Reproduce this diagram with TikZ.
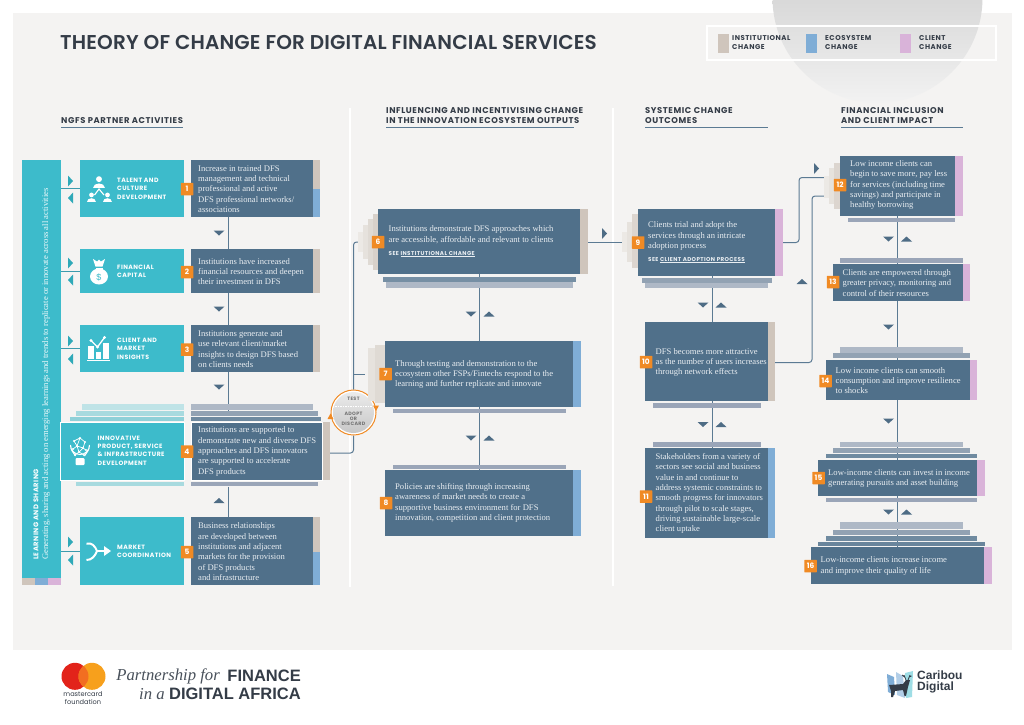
\documentclass[tikz,border=0pt]{standalone}
\usepackage{fontspec}
\usetikzlibrary{calc,shapes.geometric}
\setmainfont{Liberation Serif}
\newfontfamily\hdfont{Poppins}[LetterSpace=7.0]
\newfontfamily\ttlfont{Poppins}[UprightFont=* SemiBold,LetterSpace=0.8]
\newfontfamily\mcfont{Poppins}
\newfontfamily\lgsans{Liberation Sans}
\definecolor{panel}{HTML}{F4F3F2}
\definecolor{dk}{HTML}{50708A}
\definecolor{cy}{HTML}{3DBBCB}
\definecolor{tau}{HTML}{CFC5BC}
\definecolor{blu}{HTML}{7FADD6}
\definecolor{pnk}{HTML}{D9B3D9}
\definecolor{org}{HTML}{F08A24}
\definecolor{ink}{HTML}{343C47}
\definecolor{lne}{HTML}{5B7A93}
\definecolor{tri}{HTML}{4E6C85}
\definecolor{teal}{HTML}{2FA9B8}
\definecolor{stA}{HTML}{AEB8C6}
\definecolor{stB}{HTML}{92A2B3}
\definecolor{stC}{HTML}{6F8AA0}
\definecolor{stD}{HTML}{9AA5B8}
\definecolor{cyA}{HTML}{BFE3E7}
\definecolor{cyB}{HTML}{A8DADF}
\definecolor{cyC}{HTML}{8FD0D8}
\definecolor{txt}{HTML}{E9EEF2}
\definecolor{fA}{HTML}{D8D1CA}
\definecolor{fB}{HTML}{DFDAD4}
\definecolor{fC}{HTML}{E6E2DD}
\definecolor{fD}{HTML}{ECE9E5}
\definecolor{mcr}{HTML}{E2231A}
\definecolor{mco}{HTML}{F7A01C}
\definecolor{mcm}{HTML}{F26E21}
\pgfdeclarelayer{bg}
\pgfsetlayers{bg,main}
\tikzset{
 dkbox/.style={fill=dk,draw=none,inner sep=0pt,rectangle},
 cybox/.style={fill=cy,draw=none,inner sep=0pt,rectangle},
 bodytxt/.style={inner sep=0pt,anchor=west,align=left,text=txt,font=\fontsize{8.6}{10.35}\selectfont},
 cylab/.style={inner sep=0pt,anchor=west,align=left,text=white,font=\hdfont\bfseries\fontsize{6.2}{8.35}\selectfont},
 headlab/.style={inner sep=0pt,anchor=west,align=left,text=ink,font=\hdfont\bfseries\fontsize{8.4}{9.9}\selectfont},
 leglab/.style={inner sep=0pt,anchor=west,align=left,text=ink,font=\hdfont\bfseries\fontsize{7}{9}\selectfont},
 badge/.style={fill=org,text=white,inner sep=0pt,minimum width=12.5pt,minimum height=12.5pt,rounded corners=0.5pt,font=\mcfont\bfseries\fontsize{7.4}{7}\selectfont},
 con/.style={draw=lne,line width=1pt},
 turn/.style={con,rounded corners=3pt},
 cyctext/.style={inner sep=0pt,align=center,text=black!55,font=\hdfont\bfseries\fontsize{4.8}{5.2}\selectfont},
}
\newcommand\dbox[8]{\node[dkbox,minimum width={(#4-#2)*1pt},minimum height={(#5-#3)*1pt}] (#1) at ({(#2+#4)/2},{(#3+#5)/2}) {};
 \node[bodytxt] (#1t) at (#6,#7) {#8};}
\newcommand\cbox[5]{\node[cybox,minimum width={(#4-#2)*1pt},minimum height={(#5-#3)*1pt}] (#1) at ({(#2+#4)/2},{(#3+#5)/2}) {};}
\newcommand\strp[6]{\node[fill=#6,inner sep=0pt,minimum width={(#4-#2)*1pt},minimum height={(#5-#3)*1pt}] (#1) at ({(#2+#4)/2},{(#3+#5)/2}) {};}
\newcommand\stk[5]{\fill[#5] (#1,#2) rectangle (#3,#4);}
\newcommand\bdg[4]{\node[badge] (#1) at (#2,#3) {#4};}
\newcommand\tdn[2]{\fill[tri] (#1-5.5,#2-2.5) -- (#1+5.5,#2-2.5) -- (#1,#2+2.5) -- cycle;}
\newcommand\tup[2]{\fill[tri] (#1-5.5,#2+2.5) -- (#1+5.5,#2+2.5) -- (#1,#2-2.5) -- cycle;}
\newcommand\trt[3][tri]{\fill[#1] (#2-2.5,#3-5.5) -- (#2-2.5,#3+5.5) -- (#2+2.5,#3) -- cycle;}
\newcommand\tlf[3][teal]{\fill[#1] (#2+2.5,#3-5.5) -- (#2+2.5,#3+5.5) -- (#2-2.5,#3) -- cycle;}
% fan: right x, mid y, half height
\newcommand\fanfour[3]{\fill[fD] (#1-20,#2-#3+18) rectangle (#1-15,#2+#3-18);\fill[fC] (#1-15,#2-#3+11) rectangle (#1-10,#2+#3-11);\fill[fB] (#1-10,#2-#3+5) rectangle (#1-5,#2+#3-5);\fill[fA] (#1-5,#2-#3) rectangle (#1,#2+#3);}
\newcommand\person[3]{\fill[white] (#1,#2-#3*0.55) circle ({#3*0.42});\fill[white] (#1-#3*0.85,#2+#3*0.72) .. controls (#1-#3*0.85,#2-#3*0.1) and (#1+#3*0.85,#2-#3*0.1) .. (#1+#3*0.85,#2+#3*0.72) -- cycle;}
\begin{document}
\begin{tikzpicture}[x=1pt,y=-1pt]
\useasboundingbox (0,0) rectangle (1024,724);
\begin{pgfonlayer}{bg}
\fill[white] (0,0) rectangle (1024,724);
\fill[panel] (13,13) rectangle (1012,650);
\begin{scope}
\clip (877.5,-2) circle (105);
\shade[top color=black!15,bottom color=black!5] (770,0) rectangle (985,104);
\end{scope}
\draw[white,line width=1.2pt] (350,108) -- (350,587);
\draw[white,line width=1.2pt] (613,108) -- (613,586);
\end{pgfonlayer}

% legend and headings
\node[inner sep=0pt,anchor=west,text=ink,font=\ttlfont\fontsize{20}{22}\selectfont] (title) at (60,42.5) {THEORY OF CHANGE FOR DIGITAL FINANCIAL SERVICES};
\node[draw=white,line width=1.4pt,inner sep=0pt,minimum width=289pt,minimum height=34pt] (legend) at (851.5,43) {};
\strp{la}{718}{34}{729}{53}{tau}
\node[leglab] (lat) at (732,43) {INSTITUTIONAL\\CHANGE};
\strp{lb}{806}{34}{817}{53}{blu}
\node[leglab] (lbt) at (825,43) {ECOSYSTEM\\CHANGE};
\strp{lc}{900}{34}{911}{53}{pnk}
\node[leglab] (lct) at (919,43) {CLIENT\\CHANGE};

\node[headlab] (h1) at (61,120.5) {NGFS PARTNER ACTIVITIES};
\node[headlab] (h2) at (386,115.5) {INFLUENCING AND INCENTIVISING CHANGE\\IN THE INNOVATION ECOSYSTEM OUTPUTS};
\node[headlab] (h3) at (645,115.5) {SYSTEMIC CHANGE\\OUTCOMES};
\node[headlab] (h4) at (841,115.5) {FINANCIAL INCLUSION\\AND CLIENT IMPACT};
\draw[lne,line width=0.8pt] (61,127.5) -- (183,127.5);
\draw[lne,line width=0.8pt] (386,127.5) -- (574,127.5);
\draw[lne,line width=0.8pt] (645,127.5) -- (768,127.5);
\draw[lne,line width=0.8pt] (841,127.5) -- (963,127.5);

% learning bar
\cbox{bar}{22}{160}{61}{585}
\stk{22}{578}{35}{585}{tau}\stk{35}{578}{48}{585}{blu}\stk{48}{578}{61}{585}{pnk}
\node[rotate=90,anchor=west,inner sep=0pt,text=white,font=\hdfont\bfseries\fontsize{6.8}{8}\selectfont] (barh) at (36,560) {LEARNING AND SHARING};
\node[rotate=90,anchor=west,inner sep=0pt,text=white!90!cy,font=\fontsize{8.6}{10}\selectfont] (bart) at (46,560) {Generating, sharing and acting on emerging learnings and trends to replicate or innovate across all activities};

% column 1
\cbox{c1}{80}{160}{184}{217}
\cbox{c2}{80}{249}{184}{293}
\cbox{c3}{80}{325}{184}{372}
\stk{82}{404}{184}{410}{cyA}\stk{76}{410.5}{184}{416}{cyB}\stk{70}{416.5}{184}{420.5}{cyC}
\node[cybox,draw=white,line width=1pt,minimum width=124pt,minimum height=58pt] (c4) at (122,451) {};
\stk{76}{481.5}{184}{486}{cyB}
\cbox{c5}{80}{517}{184}{585}
\node[cylab] (c1t) at (117,188.8) {TALENT AND\\CULTURE\\DEVELOPMENT};
\node[cylab] (c2t) at (117,271.3) {FINANCIAL\\CAPITAL};
\node[cylab] (c3t) at (117,348.8) {CLIENT AND\\MARKET\\INSIGHTS};
\node[cylab] (c4t) at (97.5,450.5) {INNOVATIVE\\PRODUCT, SERVICE\\\& INFRASTRUCTURE\\DEVELOPMENT};
\node[cylab] (c5t) at (117,551.3) {MARKET\\COORDINATION};

% icons
\person{99}{183}{7}
\person{91.5}{198}{5.6}
\person{107.5}{198}{5.6}
\draw[white,line width=1.1pt] (94.5,195) -- (99,189) -- (104,195);
\fill[white] (99,276.5) ellipse (9 and 8);
\fill[white] (95.5,272) rectangle (102.5,268);
\fill[white] (93,259) -- (97,261.5) -- (99,259.5) -- (101,261.5) -- (105,259) -- (102.5,266.5) -- (95.5,266.5) -- cycle;
\node[inner sep=0pt,text=cy,font=\lgsans\fontsize{9}{9}\selectfont] (dollar) at (99,277) {\$};
\fill[white] (87,359.5) rectangle (109.5,361);
\fill[white] (88,346) rectangle (94,358.5);
\fill[white] (95.8,352) rectangle (101.2,358.5);
\fill[white] (103,343) rectangle (108.5,358.5);
\draw[white,line width=1.3pt] (91,340.5) -- (97.5,347) -- (104.5,337.5);
\fill[white] (91,340.5) circle (1.6) (97.5,347) circle (1.6) (104.5,337.5) circle (1.6);
\draw[white,line width=1pt] (75.5,456) .. controls (73,452) and (70.5,450) .. (70.5,445) arc[start angle=180,end angle=0,radius=9.5] .. controls (89.5,450) and (87,452) .. (84.5,456);
\foreach \a/\b in {74/441,80/438,85/442,77/446,83/448,73/449,86/450,79/452,75/455,84/455}{\fill[white] (\a,\b) circle (1.2);}
\draw[white,line width=0.7pt] (74,441) -- (80,438) -- (85,442) -- (83,448) -- (77,446) -- (74,441) (77,446) -- (73,449) (83,448) -- (86,450) (77,446) -- (79,452) -- (83,448) (79,452) -- (75,455) (79,452) -- (84,455) (80,438) -- (77,446);
\fill[white,rounded corners=1pt] (75.5,458) rectangle (84.5,465);
\draw[white,line width=2pt] (86.5,543.5) .. controls (92,542.5) and (95,546) .. (97,551) .. controls (95,556) and (92,560) .. (86.5,560);
\draw[white,line width=2pt] (97,551) -- (105,551);
\fill[white] (104,546) -- (111,551) -- (104,556) -- cycle;

% left links
\begin{pgfonlayer}{bg}
\draw[draw=teal!70!lne,line width=0.9pt] (bar.east|-c1.west)++(0,0) -- (c1.west);
\draw[draw=teal!70!lne,line width=0.9pt] (bar.east|-c2.west) -- (c2.west);
\draw[draw=teal!70!lne,line width=0.9pt] (bar.east|-c3.west) -- (c3.west);
\draw[draw=teal!70!lne,line width=0.9pt] (bar.east|-c5.west) -- (c5.west);
\end{pgfonlayer}
\trt[teal]{70.5}{181}\tlf{70.5}{198}
\trt[teal]{70.5}{263}\tlf{70.5}{280}
\trt[teal]{70.5}{341}\tlf{70.5}{359}
\trt[teal]{70.5}{542}\tlf{70.5}{560}

% activity boxes
\dbox{b1}{191}{160}{313}{217}{198}{189}{Increase in trained DFS\\management and technical\\professional and active\\DFS professional networks/\\associations}
\strp{s1a}{313}{160}{320}{189}{tau}\strp{s1b}{313}{189}{320}{217}{blu}
\dbox{b2}{191}{249}{313}{293}{198}{271.5}{Institutions have increased\\financial resources and deepen\\their investment in DFS}
\strp{s2}{313}{249}{320}{293}{tau}
\dbox{b3}{191}{325}{313}{372}{198}{349}{Institutions generate and\\use relevant client/market\\insights to design DFS based\\on clients needs}
\strp{s3}{313}{325}{320}{372}{tau}
\stk{191}{404}{313}{410}{stA}\stk{191}{410.5}{317.5}{416}{stB}\stk{191}{416.5}{320.5}{420.5}{stC}
\node[dkbox,draw=white,line width=1pt,minimum width=131pt,minimum height=58pt] (b4) at (256.5,451) {};
\node[bodytxt] (b4t) at (198,451.5) {Institutions are supported to\\demonstrate new and diverse DFS\\approaches and DFS innovators\\are supported to accelerate\\DFS products};
\strp{s4}{322.5}{422}{330}{480}{tau}
\stk{191}{482}{317.5}{486}{stD}
\dbox{b5}{191}{517}{313}{585}{198}{551.8}{Business relationships\\are developed between\\institutions and adjacent\\markets for the provision\\of DFS products\\and infrastructure}
\strp{s5a}{313}{517}{320}{552}{tau}\strp{s5b}{313}{552}{320}{585}{blu}

\coordinate (xa) at (228,0);
\coordinate (xb) at (479,0);
\coordinate (xc) at (712,0);
\coordinate (xd) at (897.7,0);
\begin{pgfonlayer}{bg}
\draw[con] (b1.south-|xa) -- (b2.north-|xa);
\draw[con] (b2.south-|xa) -- (b3.north-|xa);
\draw[con] (b3.south-|xa) -- ([yshift=10pt]b4.north-|xa);
\draw[con] ([yshift=-6pt]b4.south-|xa) -- (b5.north-|xa);
\end{pgfonlayer}
\tdn{219}{233}\tdn{219}{309}\tdn{219}{387}\tup{219}{500.5}

% cycle
\node[circle,draw=org,line width=1pt,fill=white,inner sep=0pt,minimum size=45pt] (cyc) at (353.5,412.5) {};
\shade[top color=black!8,bottom color=black!22] (353.5,412.5) circle (20.5);
\draw[white,line width=0.8pt,dash pattern=on 1.5pt off 1pt] (335,406.5) -- (372,406.5);
\node[cyctext] (cyt) at (353.5,399) {TEST};
\node[cyctext] (cya) at (353.5,419) {ADOPT\\OR\\DISCARD};
\fill[org] (373,405.5) -- (379,405.5) -- (376,411) -- cycle;
\fill[org] (327.5,419) -- (333.5,419) -- (330.5,413.5) -- cycle;

% column 2
\fanfour{378}{242}{28}
\coordinate (f6) at (358,242);
\dbox{b6}{378}{209}{580}{274}{388.5}{241.5}{Institutions demonstrate DFS approaches which\\are accessible, affordable and relevant to clients\\[2.4pt]{\hdfont\bfseries\fontsize{5.6}{7}\selectfont SEE \underline{INSTITUTIONAL CHANGE}}}
\strp{s6}{580}{209}{588}{274}{tau}
\stk{382.5}{277}{576}{282}{stC!80!stB}\stk{385.5}{282}{573}{288}{stA}
\fill[fC] (368,348) rectangle (375,401);\fill[fB] (375,345) rectangle (385,403);
\coordinate (f7) at (365,374);
\dbox{b7}{385}{341}{573}{407}{395}{374.5}{Through testing and demonstration to the\\ecosystem other FSPs/Fintechs respond to the\\learning and further replicate and innovate}
\strp{s7}{573}{341}{581}{407}{blu}
\stk{393}{409}{566}{413}{stD}
\stk{393}{465}{566}{469}{stD}
\dbox{b8}{385}{470}{573}{536}{395}{503}{Policies are shifting through increasing\\awareness of market needs to create a\\supportive business environment for DFS\\innovation, competition and client protection}
\strp{s8}{573}{470}{581}{536}{blu}
\begin{pgfonlayer}{bg}
\draw[turn] ([yshift=-2pt]s4.east) -| (cyc.south);
\draw[turn] (cyc.north) |- (f6);
\draw[con] (cyc.north|-f7) -- (f7);
\draw[con] (b6.south-|xb) -- (b7.north-|xb);
\draw[con] (b7.south-|xb) -- (b8.north-|xb);
\end{pgfonlayer}
\tdn{471}{314}\tup{489}{314}
\tdn{471}{438}\tup{489}{438}
\trt{604.5}{233.5}

% column 3
\fill[fD] (622,232) rectangle (627,252);
\fill[fC] (627,222) rectangle (632,262);
\fill[fA!50!fB] (632,214) rectangle (638,268);
\coordinate (f9) at (622,242);
\dbox{b9}{638}{209}{775}{276}{648}{242.5}{Clients trial and adopt the\\services through an intricate\\adoption process\\[2.4pt]{\hdfont\bfseries\fontsize{5.6}{7}\selectfont SEE \underline{CLIENT ADOPTION PROCESS}}}
\strp{s9}{775}{209}{783}{276}{pnk}
\stk{642}{278}{772}{283}{stB}\stk{645}{283}{768}{288}{stA}
\dbox{b10}{645}{322}{768}{401}{655.5}{362.3}{DFS becomes more attractive\\as the number of users increases\\through network effects}
\strp{s10}{768}{322}{775}{401}{tau}
\stk{653}{403}{761}{408}{stD}
\stk{653}{442}{761}{446.5}{stD}
\dbox{b11}{645}{448}{768}{538}{655.5}{493.5}{Stakeholders from a variety of\\sectors see social and business\\value in and continue to\\address systemic constraints to\\smooth progress for innovators\\through pilot to scale stages,\\driving sustainable large-scale\\client uptake}
\strp{s11}{768}{448}{775}{538}{blu}
\begin{pgfonlayer}{bg}
\draw[con] (s6.east|-f9) -- (f9);
\draw[con] (b9.south-|xc) -- (b10.north-|xc);
\draw[con] (b10.south-|xc) -- (b11.north-|xc);
\end{pgfonlayer}
\tdn{703}{305}\tup{721}{305}
\tdn{703}{424.5}\tup{721}{424.5}

% column 4
\fill[fD] (824,176) rectangle (829,198);
\fill[fC] (829,168) rectangle (834,204);
\fill[fA!50!fB] (834,163) rectangle (840,209);
\coordinate (f12a) at (824,177.5);
\coordinate (f12b) at (829,196);
\dbox{b12}{840}{156}{955}{216}{850}{185.2}{Low income clients can\\begin to save more, pay less\\for services (including time\\savings) and participate in\\healthy borrowing}
\strp{s12}{955}{156}{963}{216}{pnk}
\stk{848}{218}{955}{222}{stD}
\stk{840}{258}{963}{262.5}{stD}
\dbox{b13}{833}{264}{963}{301}{842.5}{283}{Clients are empowered through\\greater privacy, monitoring and\\control of their resources}
\strp{s13}{963}{264}{970}{301}{pnk}
\stk{840}{347}{963}{352.5}{stA}\stk{833}{353}{970}{358}{stB}
\dbox{b14}{826}{360}{970}{400}{835.5}{380.5}{Low income clients can smooth\\consumption and improve resilience\\to shocks}
\strp{s14}{970}{360}{977}{400}{pnk}
\stk{840}{442}{963}{447}{stA}\stk{833}{447.5}{970}{453}{stB}\stk{826}{453.5}{977}{458}{stC}
\dbox{b15}{818}{460}{977}{496}{828}{478.5}{Low-income clients can invest in income\\generating pursuits and asset building}
\strp{s15}{977}{460}{985}{496}{pnk}
\stk{826}{497.5}{977}{502}{stD}
\stk{840}{522}{963}{529}{stA}\stk{833}{529.5}{970}{535}{stB}\stk{826}{535.5}{977}{541}{stC}\stk{818}{541.5}{985}{546}{stC!80!dk}
\dbox{b16}{811}{547}{984}{584}{820.5}{566}{Low-income clients increase income\\and improve their quality of life}
\strp{s16}{984}{547}{992}{584}{pnk}
\begin{pgfonlayer}{bg}
\draw[turn] (s9.east) -| (799,200) |- (f12a);
\draw[turn] ([yshift=-1pt]s10.east) -| (812,220) |- (f12b);
\draw[con] (b12.south-|xd) -- (b13.north-|xd);
\draw[con] (b13.south-|xd) -- (b14.north-|xd);
\draw[con] (b14.south-|xd) -- (b15.north-|xd);
\draw[con] (b15.south-|xd) -- (b16.north-|xd);
\end{pgfonlayer}
\trt{816.5}{168.5}\tup{802}{281.5}
\tdn{888.5}{239}\tup{906.5}{239}
\tdn{888.5}{327}
\tdn{888.5}{421}
\tdn{888.5}{512}\tup{906.5}{512}

% badges
\bdg{n1}{187}{189}{1}
\bdg{n2}{187}{272}{2}
\bdg{n3}{187}{349.5}{3}
\bdg{n4}{187}{451.5}{4}
\bdg{n5}{187}{552}{5}
\bdg{n6}{378}{242}{6}
\bdg{n7}{385.5}{374}{7}
\bdg{n8}{386}{503}{8}
\bdg{n9}{638}{242.5}{9}
\bdg{n10}{646}{362}{10}
\bdg{n11}{646}{496.5}{11}
\bdg{n12}{840}{185}{12}
\bdg{n13}{833}{282}{13}
\bdg{n14}{825.5}{381}{14}
\bdg{n15}{818.5}{478}{15}
\bdg{n16}{810.5}{566}{16}

% mastercard foundation logo
\fill[mcr] (75,676.3) circle (13.5);
\fill[mco] (92,676.3) circle (13.5);
\begin{scope}
\clip (75,676.3) circle (13.5);
\fill[mcm] (92,676.3) circle (13.5);
\end{scope}
\node[inner sep=0pt,align=center,text=ink,font=\mcfont\fontsize{6.6}{7.8}\selectfont] (mc) at (83,698) {mastercard\\foundation};
\node[inner sep=0pt,anchor=east,text=ink!90,font=\itshape\fontsize{16.7}{20}\selectfont] (pf) at (220,676) {Partnership for};
\node[inner sep=0pt,anchor=east,text=ink,font=\lgsans\bfseries\fontsize{16.5}{18}\selectfont] (fi) at (301,676) {FINANCE};
\node[inner sep=0pt,anchor=west,text=ink!90,font=\itshape\fontsize{16.7}{20}\selectfont] (ia) at (139,694) {in a};
\node[inner sep=0pt,anchor=east,text=ink,font=\lgsans\bfseries\fontsize{16.5}{18}\selectfont] (da) at (301,694) {DIGITAL AFRICA};

% caribou logo
\fill[blu] (887,674) -- (894,677) -- (895,695) -- (888,692) -- cycle;
\fill[blu!60!white] (896,672) -- (903,676) -- (905,698) -- (897,695) -- cycle;
\fill[cy!50!white] (905,673) -- (913,671) -- (912,697) -- (906,698) -- cycle;
\fill[ink] (889,685) -- (903,684) -- (906,680) -- (910,680) -- (908,687) -- (906,696) -- (904.5,696) -- (903,690) -- (895,691) -- (893,697) -- (891,697) -- (891,691) -- cycle;
\draw[ink,line width=0.8pt] (906,680) -- (904,675) (904.5,677) -- (902,675) (908,680) -- (910,675) (909,677) -- (911.5,676);
\node[inner sep=0pt,anchor=west,align=left,text=ink,font=\lgsans\bfseries\fontsize{12}{10.5}\selectfont] (car) at (917,682) {Caribou\\Digital};
\end{tikzpicture}
\end{document}
